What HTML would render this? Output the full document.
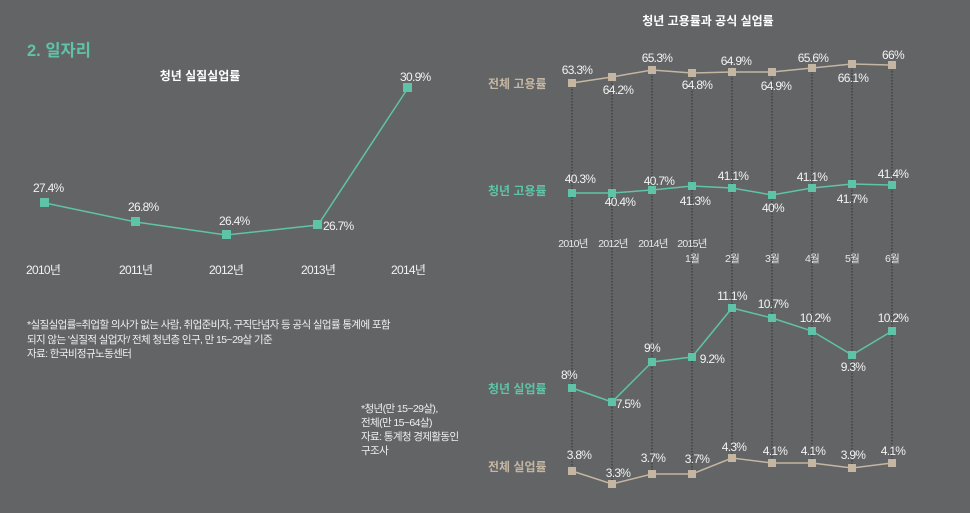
<!DOCTYPE html>
<html><head><meta charset="utf-8"><style>
html,body{margin:0;padding:0;background:#636466;}
svg{display:block;font-family:"Liberation Sans","Noto Sans CJK KR",sans-serif;}
.l{fill:#f2f2f2;font-size:12px;letter-spacing:-0.7px;}
.s{fill:#eeeeee;font-size:10.5px;letter-spacing:-0.6px;}
.n{fill:#e8e8e8;font-size:10.5px;letter-spacing:-0.7px;}
</style></head><body>
<svg width="970" height="513" viewBox="0 0 970 513">
<rect width="970" height="513" fill="#636466"/>
<!-- left -->
<text x="27" y="56" fill="#5fc3a7" font-size="16.5" font-weight="bold">2. 일자리</text>
<text x="200" y="80" text-anchor="middle" fill="#fff" font-size="12" font-weight="bold">청년 실질실업률</text>
<polyline points="45,203 136,222 226,235 318,225 408,88" fill="none" stroke="#5fc3a7" stroke-width="1.5"/>
<g fill="#5fc3a7">
<rect x="40" y="198" width="9" height="9"/><rect x="131" y="217" width="9" height="9"/><rect x="222" y="230" width="9" height="9"/><rect x="313" y="220" width="9" height="9"/><rect x="403" y="83" width="9" height="9"/>
</g>
<g class="l">
<text x="33" y="192">27.4%</text><text x="128" y="211">26.8%</text><text x="219" y="225">26.4%</text><text x="323" y="230">26.7%</text><text x="400" y="81">30.9%</text>
<text x="26" y="274">2010년</text><text x="119" y="274">2011년</text><text x="209" y="274">2012년</text><text x="301" y="274">2013년</text><text x="391" y="274">2014년</text>
</g>
<g class="s">
<text x="27" y="328">*실질실업률=취업할 의사가 없는 사람, 취업준비자, 구직단념자 등 공식 실업률 통계에 포함</text>
<text x="27" y="343">되지 않는 '실질적 실업자'/ 전체 청년층 인구, 만 15~29살 기준</text>
<text x="27" y="357">자료: 한국비정규노동센터</text>
<text x="361" y="412">*청년(만 15~29살),</text>
<text x="361" y="426">전체(만 15~64살)</text>
<text x="361" y="440">자료: 통계청 경제활동인</text>
<text x="361" y="454">구조사</text>
</g>
<!-- right -->
<text x="708" y="25" text-anchor="middle" fill="#fff" font-size="12" font-weight="bold">청년 고용률과 공식 실업률</text>
<g stroke="#2e2f30" stroke-width="1" stroke-dasharray="1.5,1.5">
<line x1="572" y1="83" x2="572" y2="471"/><line x1="612" y1="77" x2="612" y2="484"/><line x1="652" y1="70" x2="652" y2="474"/><line x1="692" y1="73" x2="692" y2="474"/><line x1="732" y1="72" x2="732" y2="458"/><line x1="772" y1="72" x2="772" y2="463"/><line x1="812" y1="68" x2="812" y2="463"/><line x1="852" y1="64" x2="852" y2="468"/><line x1="892" y1="65" x2="892" y2="463"/>
</g>
<g font-size="12" font-weight="bold">
<text x="488" y="88" fill="#c4b6a2">전체 고용률</text>
<text x="488" y="195" fill="#5fc3a7">청년 고용률</text>
<text x="488" y="393" fill="#5fc3a7">청년 실업률</text>
<text x="488" y="471" fill="#c4b6a2">전체 실업률</text>
</g>
<polyline points="572,83 612,77 652,70 692,73 732,72 772,72 812,68 852,64 892,65" fill="none" stroke="#c4b6a2" stroke-width="1.5"/>
<polyline points="572,193 612,193 652,190 692,186 732,188 772,195 812,188 852,184 892,185" fill="none" stroke="#5fc3a7" stroke-width="1.5"/>
<polyline points="572,388 612,402 652,362 692,357 732,308 772,318 812,331 852,355 892,331" fill="none" stroke="#5fc3a7" stroke-width="1.5"/>
<polyline points="572,471 612,484 652,474 692,474 732,458 772,463 812,463 852,468 892,463" fill="none" stroke="#c4b6a2" stroke-width="1.5"/>
<g fill="#c4b6a2">
<rect x="568" y="79" width="8" height="8"/><rect x="608" y="73" width="8" height="8"/><rect x="648" y="66" width="8" height="8"/><rect x="688" y="69" width="8" height="8"/><rect x="728" y="68" width="8" height="8"/><rect x="768" y="68" width="8" height="8"/><rect x="808" y="64" width="8" height="8"/><rect x="848" y="60" width="8" height="8"/><rect x="888" y="61" width="8" height="8"/>
<rect x="568" y="467" width="8" height="8"/><rect x="608" y="480" width="8" height="8"/><rect x="648" y="470" width="8" height="8"/><rect x="688" y="470" width="8" height="8"/><rect x="728" y="454" width="8" height="8"/><rect x="768" y="459" width="8" height="8"/><rect x="808" y="459" width="8" height="8"/><rect x="848" y="464" width="8" height="8"/><rect x="888" y="459" width="8" height="8"/>
</g>
<g fill="#5fc3a7">
<rect x="568" y="189" width="8" height="8"/><rect x="608" y="189" width="8" height="8"/><rect x="648" y="186" width="8" height="8"/><rect x="688" y="182" width="8" height="8"/><rect x="728" y="184" width="8" height="8"/><rect x="768" y="191" width="8" height="8"/><rect x="808" y="184" width="8" height="8"/><rect x="848" y="180" width="8" height="8"/><rect x="888" y="181" width="8" height="8"/>
<rect x="568" y="384" width="8" height="8"/><rect x="608" y="398" width="8" height="8"/><rect x="648" y="358" width="8" height="8"/><rect x="688" y="353" width="8" height="8"/><rect x="728" y="304" width="8" height="8"/><rect x="768" y="314" width="8" height="8"/><rect x="808" y="327" width="8" height="8"/><rect x="848" y="351" width="8" height="8"/><rect x="888" y="327" width="8" height="8"/>
</g>
<g class="l" text-anchor="middle">
<text x="577" y="74">63.3%</text><text x="618" y="94">64.2%</text><text x="657" y="62">65.3%</text><text x="697" y="89">64.8%</text><text x="736" y="65">64.9%</text><text x="776" y="90">64.9%</text><text x="813" y="62">65.6%</text><text x="853" y="82">66.1%</text><text x="893" y="59">66%</text>
<text x="580" y="183">40.3%</text><text x="620" y="206">40.4%</text><text x="659" y="185">40.7%</text><text x="695" y="205">41.3%</text><text x="733" y="180">41.1%</text><text x="773" y="212">40%</text><text x="812" y="181">41.1%</text><text x="852" y="203">41.7%</text><text x="893" y="178">41.4%</text>
<text x="569" y="379">8%</text><text x="628" y="408">7.5%</text><text x="652" y="352">9%</text><text x="712" y="363">9.2%</text><text x="732" y="300">11.1%</text><text x="773" y="308">10.7%</text><text x="815" y="322">10.2%</text><text x="853" y="371">9.3%</text><text x="893" y="322">10.2%</text>
<text x="579" y="459">3.8%</text><text x="618" y="477">3.3%</text><text x="653" y="462">3.7%</text><text x="697" y="463">3.7%</text><text x="734" y="451">4.3%</text><text x="775" y="455">4.1%</text><text x="813" y="455">4.1%</text><text x="853" y="459">3.9%</text><text x="893" y="455">4.1%</text>
</g>
<g class="n" text-anchor="middle">
<text x="573" y="247">2010년</text><text x="613" y="247">2012년</text><text x="653" y="247">2014년</text><text x="692" y="247">2015년</text>
<text x="692" y="262">1월</text><text x="732" y="262">2월</text><text x="772" y="262">3월</text><text x="812" y="262">4월</text><text x="852" y="262">5월</text><text x="892" y="262">6월</text>
</g>
</svg>
</body></html>
